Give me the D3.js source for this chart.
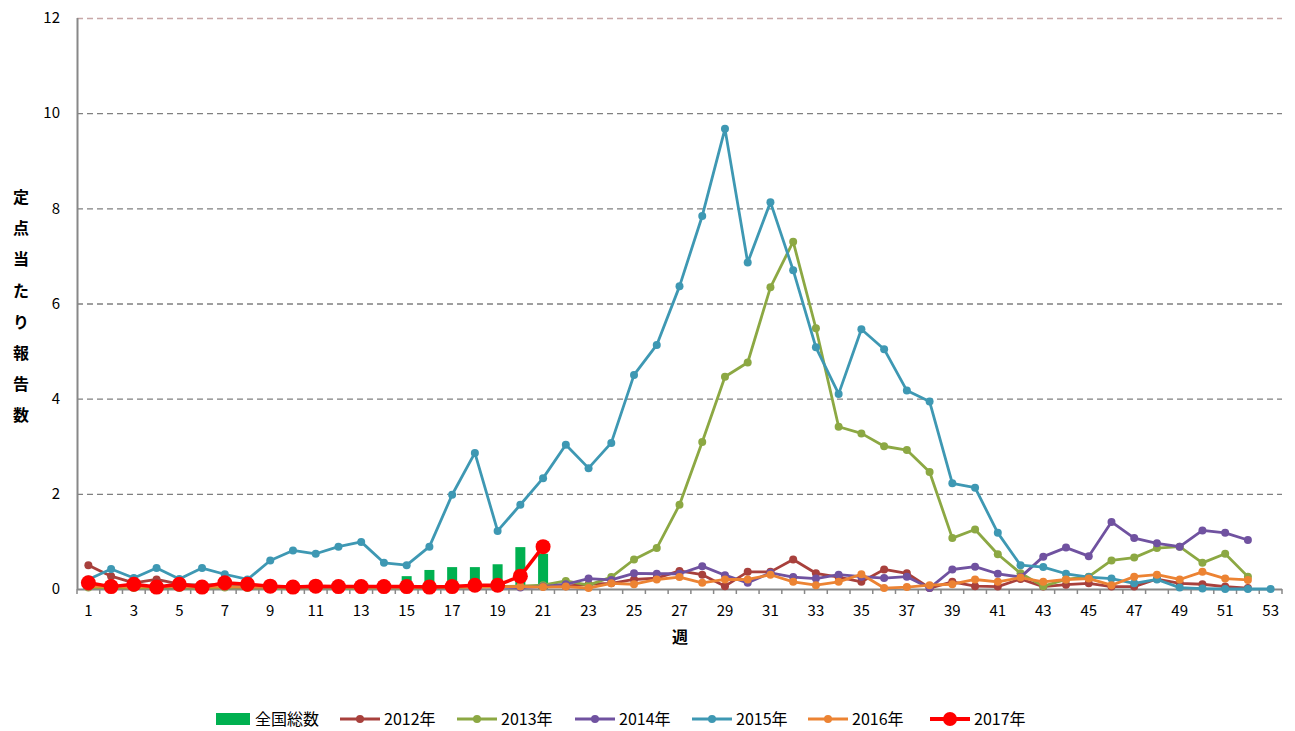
<!DOCTYPE html>
<html><head><meta charset="utf-8">
<script src="https://cdn.jsdelivr.net/npm/d3@7"></script>
<style>body{margin:0;background:#fff}svg{display:block}text{font-family:"Noto Sans CJK JP","DejaVu Sans",sans-serif}</style>
</head><body><svg id="c" width="1295" height="731"></svg>
<script>
const weeks=[1,2,3,4,5,6,7,8,9,10,11,12,13,14,15,16,17,18,19,20,21,22,23,24,25,26,27,28,29,30,31,32,33,34,35,36,37,38,39,40,41,42,43,44,45,46,47,48,49,50,51,52,53];
const yTicks=[0,2,4,6,8,10,12];
const national=[0.12,0.1,0.1,0.09,0.09,0.08,0.09,0.08,0.08,0.08,0.09,0.09,0.1,0.12,0.27,0.4,0.46,0.46,0.52,0.88,0.74];
const y2012=[0.5,0.27,0.13,0.2,0.1,0.08,0.1,0.08,0.06,0.05,0.06,0.05,0.05,0.04,0.05,0.04,0.05,0.05,0.05,0.05,0.06,0.06,0.1,0.12,0.2,0.23,0.38,0.3,0.06,0.36,0.36,0.62,0.33,0.25,0.15,0.41,0.33,0.02,0.15,0.06,0.05,0.21,0.05,0.09,0.12,0.05,0.05,0.21,0.12,0.1,0.05,0.02];
const y2013=[0.03,0.03,0.02,0.03,0.02,0.02,0.03,0.02,0.02,0.02,0.03,0.02,0.02,0.03,0.02,0.03,0.03,0.04,0.05,0.06,0.08,0.17,0.08,0.25,0.62,0.86,1.77,3.09,4.46,4.76,6.34,7.3,5.48,3.41,3.27,3.0,2.92,2.46,1.07,1.25,0.73,0.33,0.06,0.2,0.26,0.6,0.66,0.86,0.89,0.55,0.74,0.26];
const y2014=[0.05,0.06,0.05,0.05,0.04,0.05,0.05,0.04,0.04,0.05,0.04,0.04,0.05,0.04,0.04,0.05,0.04,0.05,0.04,0.03,0.05,0.1,0.22,0.19,0.33,0.32,0.32,0.48,0.29,0.13,0.34,0.25,0.22,0.3,0.26,0.23,0.26,0.02,0.41,0.47,0.32,0.25,0.68,0.87,0.69,1.41,1.07,0.96,0.89,1.23,1.18,1.03];
const y2015=[0.2,0.42,0.23,0.44,0.21,0.44,0.31,0.2,0.6,0.81,0.74,0.89,0.99,0.55,0.5,0.89,1.98,2.86,1.22,1.77,2.33,3.03,2.54,3.07,4.5,5.13,6.36,7.84,9.67,6.86,8.13,6.7,5.08,4.1,5.46,5.04,4.17,3.94,2.22,2.13,1.18,0.5,0.46,0.32,0.25,0.22,0.12,0.2,0.03,0.01,0,0,0];
const y2016=[0.05,0.05,0.04,0.05,0.05,0.04,0.05,0.04,0.04,0.04,0.05,0.04,0.04,0.04,0.04,0.04,0.04,0.04,0.05,0.05,0.04,0.05,0.02,0.12,0.1,0.2,0.25,0.13,0.2,0.2,0.3,0.15,0.08,0.15,0.31,0.02,0.04,0.08,0.1,0.2,0.15,0.24,0.15,0.2,0.22,0.08,0.26,0.3,0.2,0.36,0.22,0.19];
const y2017=[0.13,0.05,0.1,0.04,0.1,0.04,0.13,0.1,0.06,0.04,0.06,0.05,0.05,0.05,0.05,0.04,0.05,0.08,0.08,0.27,0.89];
const seriesNames=["2012年","2013年","2014年","2015年","2016年","2017年"];
const seriesColors=["#A8403C","#8CA843","#7052A0","#3E98B3","#EC8333","#FF0000"];
const barName="全国総数", barColor="#00B050";
const yTitle="定点当たり報告数", xTitle="週";

const svg=d3.select("#c");
const L=77,R=1282,T=18,B=589;
const x=d3.scaleBand().domain(weeks).range([L,R]).paddingInner(0).paddingOuter(0);
const y=d3.scaleLinear().domain([0,12]).range([B,T]);
const cx=w=>x(w)+x.bandwidth()/2;

// grid
svg.append("g").selectAll("line").data(yTicks.filter(t=>t>0)).join("line")
 .attr("x1",L).attr("x2",R).attr("y1",d=>y(d)+0.5).attr("y2",d=>y(d)+0.5)
 .attr("stroke",d=>d===12?"#c8a8a8":"#808080").attr("stroke-width",1.3).attr("stroke-dasharray","6,4");

// bars
const bw=10;
svg.append("g").selectAll("rect").data(national).join("rect")
 .attr("x",(d,i)=>cx(weeks[i])-bw/2).attr("width",bw)
 .attr("y",d=>y(d)).attr("height",d=>B-y(d)).attr("fill",barColor);

// axes
const ya=d3.axisLeft(y).tickValues(yTicks).tickSize(0).tickPadding(0);
const gy=svg.append("g").attr("transform",`translate(${L},0)`).call(ya);
gy.select(".domain").remove();
gy.selectAll("text").attr("x",-17).attr("font-size",15).attr("fill","#000").attr("font-family","DejaVu Sans");
svg.append("line").attr("x1",L+0.5).attr("x2",L+0.5).attr("y1",T).attr("y2",B).attr("stroke","#888").attr("stroke-width",2);

const xa=d3.axisBottom(x).tickValues(weeks.filter(w=>w%2===1)).tickSize(0).tickPadding(16);
const gx=svg.append("g").attr("transform",`translate(0,${B})`).call(xa);
gx.select(".domain").remove();
gx.selectAll("text").attr("font-size",15).attr("fill","#000").attr("font-family","DejaVu Sans");
svg.append("g").selectAll("line").data(weeks.concat([54])).join("line")
 .attr("x1",(d,i)=>L+i*x.bandwidth()).attr("x2",(d,i)=>L+i*x.bandwidth())
 .attr("y1",B).attr("y2",B+5).attr("stroke","#888").attr("stroke-width",1.5);
svg.append("line").attr("x1",L).attr("x2",R).attr("y1",B+0.5).attr("y2",B+0.5).attr("stroke","#888").attr("stroke-width",2);

// lines
const all=[y2012,y2013,y2014,y2015,y2016,y2017];
const line=d3.line().x((d,i)=>cx(weeks[i])).y(d=>y(d));
all.forEach((vals,k)=>{
  const big=k===5;
  const g=svg.append("g");
  g.append("path").datum(vals).attr("d",line).attr("fill","none")
   .attr("stroke",seriesColors[k]).attr("stroke-width",big?3.5:2.8).attr("stroke-linejoin","round");
  g.selectAll("circle").data(vals).join("circle")
   .attr("cx",(d,i)=>cx(weeks[i])).attr("cy",d=>y(d)).attr("r",big?7.5:4).attr("fill",seriesColors[k]);
});

// y title
const yt=svg.append("g");
yt.selectAll("text").data(Array.from(yTitle)).join("text")
 .attr("x",21).attr("y",(d,i)=>203+i*31.2).attr("text-anchor","middle").attr("font-size",16).attr("font-weight","bold").text(d=>d);
svg.append("text").attr("x",680).attr("y",643).attr("text-anchor","middle").attr("font-size",16).attr("font-weight","bold").text(xTitle);

// legend
const lg=svg.append("g").attr("transform","translate(0,719)");
lg.append("rect").attr("x",216).attr("y",-6).attr("width",34).attr("height",12).attr("fill",barColor);
lg.append("text").attr("x",255).attr("y",0).attr("dy","0.35em").attr("font-size",16).text(barName);
const lx=[340,457,575,692,808,930];
seriesNames.forEach((n,k)=>{
  const big=k===5;
  lg.append("line").attr("x1",lx[k]).attr("x2",lx[k]+40).attr("y1",0).attr("y2",0).attr("stroke",seriesColors[k]).attr("stroke-width",big?4:3);
  lg.append("circle").attr("cx",lx[k]+20).attr("cy",0).attr("r",big?7:4).attr("fill",seriesColors[k]);
  lg.append("text").attr("x",lx[k]+44).attr("y",0).attr("dy","0.35em").attr("font-size",16).text(n);
});
</script></body></html>
